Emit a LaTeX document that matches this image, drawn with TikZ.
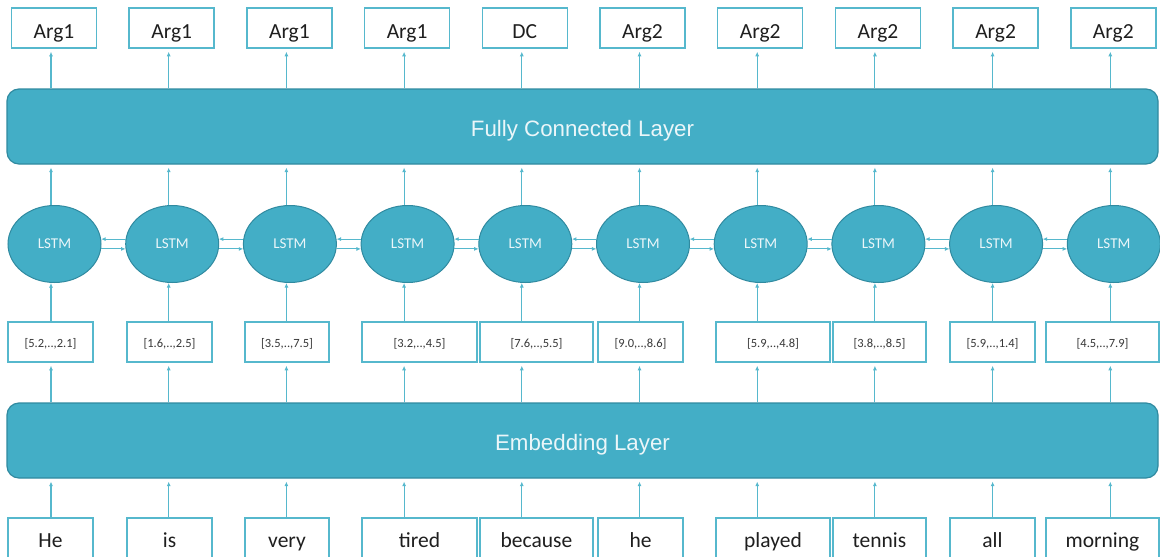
\documentclass[tikz,border=0pt]{standalone}
\usepackage{fontspec}
\setmainfont{Carlito}
\newfontfamily\arialf{Liberation Sans}
\usetikzlibrary{arrows.meta,shapes.geometric}
\definecolor{tealfill}{RGB}{67,174,198}
\definecolor{tealdark}{RGB}{48,138,160}
\definecolor{tealline}{RGB}{86,184,205}
\definecolor{labtext}{RGB}{235,246,249}
\begin{document}
\begin{tikzpicture}[x=1pt,y=-1pt,
  layer/.style={draw=tealdark, line width=1.2pt, fill=tealfill, rounded corners=12pt,
    minimum width=1151, minimum height=75, text=labtext, text height=19pt, text depth=0pt,
    font=\arialf\fontsize{22.3}{26}\selectfont},
  outbox/.style={draw=tealline, line width=1.5pt, fill=white, inner sep=0pt,
    minimum width=85, minimum height=40, text=black!88, text height=20pt, text depth=0pt,
    font=\fontsize{21.5}{24}\selectfont},
  wordbox/.style={draw=tealline, line width=1.5pt, fill=white, inner sep=0pt,
    minimum height=42, text=black!88, text height=18pt, text depth=2pt,
    font=\fontsize{21.5}{24}\selectfont},
  vecbox/.style={draw=tealline, line width=1.5pt, fill=white, inner sep=0pt,
    minimum height=40, text=black!78, text height=11pt, text depth=1pt,
    font=\fontsize{12.5}{14}\selectfont},
  lstm/.style={ellipse, draw=tealdark, line width=1pt, fill=tealfill, inner sep=0pt,
    minimum width=93, minimum height=77, text=labtext, font=\fontsize{15}{17}\selectfont},
  arr/.style={draw=tealline, line width=1.1pt, -{Latex[length=4.5pt,width=4pt]}}]
\useasboundingbox (0,0) rectangle (1160,557);
\clip (0,0) rectangle (1160,557);

% layers
\node[layer] (fc) at (582.5,126.5) {Fully Connected Layer};
\node[layer] (emb) at (582.5,440.5) {Embedding Layer};

% columns: output boxes and LSTM cells
\foreach \i/\x/\lab in {1/51/Arg1, 2/168.7/Arg1, 3/286.4/Arg1, 4/404.1/Arg1, 5/521.8/DC,
    6/639.5/Arg2, 7/757.2/Arg2, 8/874.9/Arg2, 9/992.6/Arg2, 10/1110.3/Arg2}{
  \coordinate (c\i) at (\x,0);
  \node[outbox] (t\i) at (\x+3,28) {\lab};
  \node[lstm] (l\i) at (\x+3.5,244) {LSTM};
}

% vector and word boxes
\foreach \i/\l/\r/\vec/\word in {1/8/93/{[5.2,..,2.1]}/He, 2/127/212/{[1.6,..,2.5]}/is,
    3/245/329/{[3.5,..,7.5]}/very, 4/362/477/{[3.2,..,4.5]}/tired,
    5/480/593/{[7.6,..,5.5]}/because, 6/598/683/{[9.0,..,8.6]}/he,
    7/716/830/{[5.9,..,4.8]}/played, 8/833/926/{[3.8,..,8.5]}/tennis,
    9/950/1035/{[5.9,..,1.4]}/all, 10/1046/1159/{[4.5,..,7.9]}/morning}{
  \node[vecbox, minimum width=\r-\l] (v\i) at ({(\l+\r)/2},342) {\vec};
  \node[wordbox, minimum width=\r-\l] (w\i) at ({(\l+\r)/2},539) {\word};
}

% vertical arrows
\foreach \i in {1,...,10}{
  \draw[arr, shorten >=3pt] (w\i.north -| c\i) -- (emb.south -| c\i);
  \draw[arr, shorten >=3pt] (emb.north -| c\i) -- (v\i.south -| c\i);
  \draw[arr] (v\i.north -| c\i) -- (l\i.south -| c\i);
  \draw[arr, shorten >=3pt] (l\i.north -| c\i) -- (fc.south -| c\i);
  \draw[arr, shorten >=3pt] (fc.north -| c\i) -- (t\i.south -| c\i);
}

% bidirectional links between LSTM cells
\foreach \i [count=\j from 2] in {1,...,9}{
  \draw[arr] (l\j.174) -- (l\i.6);
  \draw[arr] (l\i.-6) -- (l\j.186);
}
\end{tikzpicture}
\end{document}
